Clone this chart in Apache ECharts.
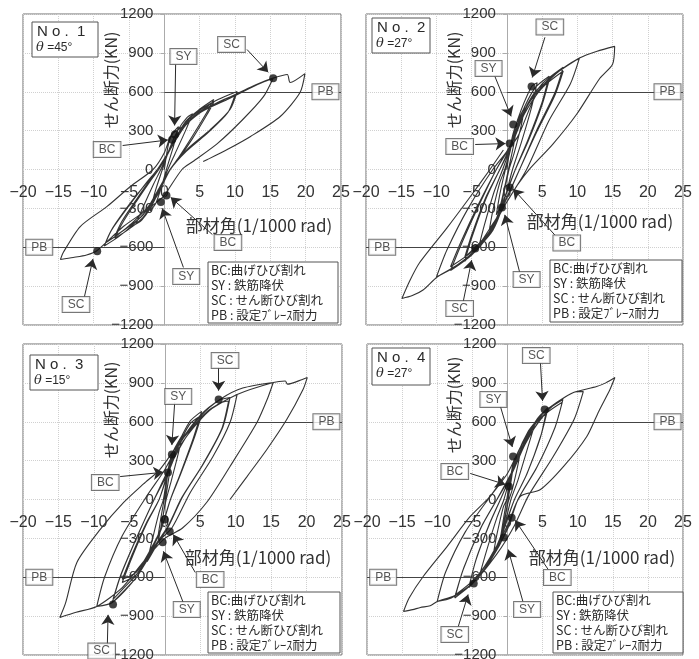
<!DOCTYPE html>
<html>
<head>
<meta charset="utf-8">
<script src="https://cdn.jsdelivr.net/npm/echarts@6/dist/echarts.min.js"></script>
<style>
html,body{margin:0;padding:0;background:#fff}
#chart{width:699px;height:659px}
</style>
</head>
<body>
<div id="chart"></div>
<script>
// ---- axis ranges ----
const xRange = [-20, 25];      // 部材角 (1/1000 rad)
const xStep = 5;
const yRange = [-1200, 1200];  // せん断力 (kN)
const yStep = 300;
const yTickValues = [-1200, -900, -600, -300, 0, 300, 600, 900, 1200];

// ---- specimen labels ----
const specimenNo = ['1', '2', '3', '4'];
const braceAngle = ['45', '27', '15', '27'];
const pbLevel = [600, 600, 600, 600];   // 設定ブレース耐力

// ---- load–deformation paths [rotation, shear] ----
const loopNo1 = [
  [0,0],[0.6,200],[1.2,280],[2,330],[1.3,180],[0.4,20],[-0.5,-150],[-1.2,-260],[-2,-320],[-1.3,-170],[-0.4,-20],
  [0.8,170],[2,310],[3.2,400],[4,430],[3,300],[1.5,120],[0.5,0],[-0.8,-170],[-2,-300],[-3.2,-390],[-4,-420],[-3,-290],[-1.5,-110],[-0.5,0],
  [1,180],[3,370],[5,465],[7,540],[6,440],[4,260],[2,90],[0.8,0],[-1,-180],[-3,-370],[-5,-460],[-7,-530],[-6,-420],[-4,-250],[-2,-90],[-0.8,0],
  [1,170],[3,350],[5,445],[7,520],[6,420],[4,240],[2,80],[0.8,0],[-1,-170],[-3,-350],[-5,-440],[-7,-515],[-6,-400],[-4,-235],[-2,-80],[-0.8,0],
  [1.2,200],[3,360],[5.1,460],[7.6,540],[10.3,602],[9.3,463],[6.5,308],[3.2,154],[0.85,0],[-1,-200],[-2.4,-309],[-4.5,-430],[-6.5,-520],[-8.5,-590],[-7.5,-470],[-5,-280],[-2.5,-100],[-1,0],
  [1.2,190],[3,340],[5.1,440],[7.6,520],[10,575],[9,440],[6.3,290],[3.1,140],[0.85,0],[-1,-190],[-2.4,-295],[-4.5,-410],[-6.5,-500],[-8.3,-565],[-7.3,-450],[-4.9,-265],[-2.4,-95],[-1,0],
  [0.5,120],[2.3,308],[5.1,440],[8.9,540],[13.2,656],[15.4,705],[14,560],[11,380],[7.5,200],[4,60],[2.5,0],[0.5,-160],[-0.1,-208],[-2.4,-309],[-5.8,-440],[-9.5,-625],[-11,-660],[-12.9,-679],[-14.7,-694],[-14.3,-640],[-11.9,-440],[-8.1,-285],[-4.8,-131],[-1.6,0],
  [0,130],[1,270],[2.3,320],[5.1,450],[8.9,550],[13.2,660],[15.4,705],[17.4,733],[17.8,671],[19.9,740],[19.2,594],[16.4,409],[12.2,255],[8.9,154],[6.1,77],[5.5,62]
];
const loopNo2 = [
  [0,0],[0.5,180],[1,300],[1.5,360],[1,200],[0.3,20],[-0.5,-180],[-1,-290],[-1.5,-350],[-1,-190],[-0.3,-20],
  [0.5,150],[1.2,330],[2.5,480],[2,330],[1,120],[0.3,0],[-0.7,-250],[-1.5,-380],[-2.5,-470],[-2,-320],[-1,-100],[-0.3,0],
  [0.6,180],[1.5,380],[3.5,640],[4.3,670],[3.5,480],[2,200],[0.8,0],[-0.7,-300],[-2,-470],[-4,-600],[-3.2,-430],[-1.8,-170],[-0.6,0],
  [0.7,200],[2,420],[4,630],[6,720],[5,520],[3,230],[1.2,0],[-0.5,-250],[-2,-470],[-4.5,-620],[-6,-710],[-5,-530],[-3,-230],[-1,0],
  [0.7,190],[2,400],[4,600],[6,690],[5,500],[3,215],[1.2,0],[-0.5,-240],[-2,-450],[-4.5,-600],[-6,-680],[-5,-505],[-3,-215],[-1,0],
  [0.8,220],[2.5,450],[5,660],[8,790],[6.8,590],[4.2,300],[1.8,0],[-0.5,-280],[-2.5,-500],[-5,-660],[-8,-780],[-6.5,-580],[-4,-280],[-1.5,0],
  [0.8,210],[2.5,430],[5,630],[8,760],[6.8,570],[4.2,285],[1.8,0],[-0.5,-270],[-2.5,-480],[-5,-635],[-8,-750],[-6.5,-555],[-4,-265],[-1.5,0],
  [1,240],[3,500],[6,700],[10.3,860],[9,660],[6,380],[2.8,0],[0,-250],[-3,-530],[-6.5,-720],[-10,-830],[-8.5,-620],[-5.5,-300],[-2,0],
  [1.5,250],[4,560],[7,740],[10.3,860],[12.8,913],[15.3,950],[15,813],[13.2,704],[9.9,426],[6.5,194],[3.3,8],[1.5,-120],[0,-250],[-2,-420],[-4.5,-620],[-7,-735],[-9.9,-830],[-11.9,-930],[-13.5,-975],[-14.9,-995],[-13.8,-860],[-12.4,-720],[-8.5,-450],[-5.2,-210],[-2.4,0],[-0.5,150]
];
const loopNo3 = [
  [0,0],[0.3,150],[0.6,250],[1,330],[0.6,180],[0.1,0],[-0.3,-150],[-0.6,-230],[-1,-300],[-0.6,-160],[-0.1,0],
  [0.3,180],[1,350],[2.5,500],[1.8,330],[0.8,120],[0.2,0],[-0.5,-200],[-1,-330],[-2.5,-480],[-1.8,-320],[-0.8,-100],[-0.2,0],
  [0.4,200],[1.5,380],[3.5,600],[5.2,680],[4,470],[2.2,200],[0.8,0],[-0.5,-230],[-2,-400],[-4,-580],[-6,-640],[-4.5,-430],[-2.5,-180],[-0.8,0],
  [0.4,190],[1.5,360],[3.5,580],[5.2,650],[4,450],[2.2,190],[0.8,0],[-0.5,-220],[-2,-385],[-4,-560],[-6,-615],[-4.5,-410],[-2.5,-170],[-0.8,0],
  [0.5,220],[2,420],[5,640],[7.6,764],[9.2,787],[8.2,560],[5.5,280],[2.5,20],[0.5,-210],[-1.5,-380],[-4,-600],[-6,-718],[-7.4,-795],[-6.3,-600],[-4,-300],[-1.5,0],
  [0.5,210],[2,400],[5,615],[7.6,740],[9,760],[8,540],[5.3,265],[2.4,15],[0.5,-200],[-1.5,-365],[-4,-580],[-6,-695],[-7.3,-770],[-6.2,-580],[-3.9,-285],[-1.5,0],
  [0.5,230],[3,480],[6,680],[10.2,810],[9.2,594],[6.8,332],[3.6,54],[1,-220],[-1,-330],[-4,-600],[-7.4,-795],[-9.6,-826],[-8.5,-600],[-6,-280],[-2.5,30],
  [0,230],[2,430],[5,650],[8,780],[11,860],[15.3,903],[14.5,780],[13,594],[9.2,255],[5.9,-23],[2.5,-220],[0,-300],[-3,-480],[-6,-680],[-9.6,-826],[-12.5,-870],[-14.8,-910],[-14,-800],[-12.4,-486],[-9.1,-231],[-5.8,-23],[-3,120],[-0.7,231],
  [2.1,440],[5.9,671],[10.2,810],[15.3,903],[17,915],[17.3,890],[19.4,926],[20.1,941],[19.5,849],[17.2,617],[14.4,386],[11.6,177],[9.2,0]
];
const loopNo4 = [
  [0,0],[0.4,150],[0.7,250],[1,320],[0.6,170],[0.1,0],[-0.4,-150],[-0.7,-240],[-1,-300],[-0.6,-160],[-0.1,0],
  [0.4,160],[1,300],[2,420],[1.5,270],[0.6,60],[0.1,-20],[-0.6,-220],[-1.2,-330],[-2,-420],[-1.5,-270],[-0.6,-60],[-0.1,0],
  [0.5,180],[1.5,360],[3,530],[4,600],[3,420],[1.5,150],[0.5,0],[-0.5,-220],[-1.5,-380],[-3,-520],[-4,-590],[-3,-400],[-1.5,-140],[-0.5,0],
  [0.5,190],[2,400],[4,600],[5.2,679],[5.8,710],[4.8,500],[2.8,200],[1,0],[-0.5,-230],[-2,-430],[-4,-590],[-5.5,-680],[-4.5,-470],[-2.5,-180],[-1,0],
  [0.5,185],[2,390],[4,585],[5.5,670],[4.7,480],[2.7,190],[1,0],[-0.5,-220],[-2,-415],[-4,-570],[-5.4,-655],[-4.4,-450],[-2.4,-170],[-1,0],
  [0.6,200],[2.5,440],[5,660],[7.9,772],[6.8,560],[4.2,250],[1.5,0],[0,-230],[-2.5,-480],[-5,-650],[-7.5,-760],[-6.3,-540],[-3.8,-220],[-1.5,0],
  [0.6,195],[2.5,425],[5,640],[7.8,750],[6.7,545],[4.1,240],[1.5,0],[0,-220],[-2.5,-465],[-5,-630],[-7.4,-735],[-6.2,-525],[-3.7,-210],[-1.5,0],
  [0.6,210],[3,480],[6,700],[9.4,826],[10.8,833],[9.5,620],[6.5,330],[3,30],[1,-200],[-1.5,-420],[-5,-650],[-8,-760],[-10,-787],[-8.8,-560],[-6,-250],[-2.5,20],
  [0,200],[2,420],[4.5,640],[7,748],[9.4,826],[12.7,872],[14,900],[15.3,941],[14.6,849],[13,680],[11.3,486],[8,255],[4.7,77],[1.8,23],[0,-200],[-2.5,-450],[-4.9,-640],[-7.5,-740],[-10,-787],[-11,-820],[-12.4,-833],[-13.5,-850],[-14.8,-864],[-14,-760],[-12,-594],[-8.6,-363],[-5.3,-131],[-2.5,23],[-0.5,180]
];

// ---- observed events (BC, SY, SC) [rotation, shear] ----
const eventsNo1 = [[1.1,230],[1.5,270],[15.4,705],[0.3,-200],[-0.5,-250],[-9.5,-630]];
const eventsNo2 = [[0.4,200],[0.9,347],[3.5,640],[0.4,-139],[-0.7,-293],[-4.5,-610]];
const eventsNo3 = [[0.45,208],[1,347],[7.6,772],[0.7,-247],[0,-154],[-0.3,-330],[-7.3,-810]];
const eventsNo4 = [[0.2,100],[0.8,332],[5.3,694],[0.6,-140],[-0.5,-293],[-4.8,-648]];

// ---- legend lines ----
const legendLines = ['BC:曲げひび割れ', 'SY : 鉄筋降伏', 'SC : せん断ひび割れ', 'PB : 設定ﾌﾞﾚｰｽ耐力'];

// ---- callout placement (tag, label anchor, arrow start, arrow tip) ----
const calloutsNo1 = [
  ['SC',[9.5,965],[11.7,926],[14.7,750]],
  ['SY',[2.7,872],[1.6,810],[1.45,340]],
  ['BC',[-8.1,154],[-5.9,185],[0.5,228]],
  ['BC',[9.0,-563],[6.8,-502],[0.9,-215]],
  ['SY',[3.1,-826],[2.7,-756],[-0.3,-300]],
  ['SC',[-12.5,-1042],[-11.3,-980],[-10.1,-690]]
];
const calloutsNo2 = [
  ['SC',[6.1,1100],[5.4,1020],[3.6,710]],
  ['SY',[-2.6,780],[-1.7,718],[0.6,410]],
  ['BC',[-6.7,178],[-4.5,193],[-0.2,200]],
  ['BC',[8.5,-567],[6.8,-505],[0.9,-150]],
  ['SY',[2.8,-849],[1.8,-790],[-0.3,-350]],
  ['SC',[-6.7,-1073],[-6.2,-1020],[-5,-700]]
];
const calloutsNo3 = [
  ['SC',[8.5,1073],[7.6,1019],[7.6,840]],
  ['SY',[1.9,795],[1.4,748],[1,420]],
  ['BC',[-8.4,131],[-6.3,177],[-0.2,210]],
  ['BC',[6.4,-617],[4.3,-563],[1.2,-270]],
  ['SY',[3.1,-849],[2.6,-795],[-0.2,-400]],
  ['SC',[-8.9,-1170],[-8.1,-1119],[-8,-890]]
];
const calloutsNo4 = [
  ['SC',[4.1,1111],[4.7,1057],[5,760]],
  ['SY',[-2,772],[-1,718],[0.7,405]],
  ['BC',[-7.5,216],[-5.3,201],[-0.3,116]],
  ['BC',[7.1,-602],[5.8,-540],[1.1,-160]],
  ['SY',[2.8,-849],[2.2,-787],[0.1,-386]],
  ['SC',[-7.5,-1042],[-7,-980],[-5.6,-733]]
];
const pbTagX = [22.8, -17.7];

// ---- page layout (pixels) ----
const panelLayout = [
  {grid:[23,14,318,311], title:[32,22,66,35], legend:[208,262,130,61], yName:[111,80],  xName:[259,226]},
  {grid:[366,14,317,311], title:[372,18,58,35], legend:[550,260,132,62], yName:[454,80],  xName:[600,222]},
  {grid:[23,344,319,311], title:[30,355,68,35], legend:[208,592,132,61], yName:[111,410], xName:[258,558]},
  {grid:[367,344,316,311], title:[372,348,58,37], legend:[553,592,130,61], yName:[454,405], xName:[602,558]}
];

const loops = [loopNo1, loopNo2, loopNo3, loopNo4];
const events = [eventsNo1, eventsNo2, eventsNo3, eventsNo4];
const callouts = [calloutsNo1, calloutsNo2, calloutsNo3, calloutsNo4];

const INK = '#2a2a2a';
const NUM_FONT = 'Liberation Sans';
const JP_FONT = 'Noto Sans CJK JP';
const minus = v => String(v).replace('-', '\u2212');

const grids = [], xAxes = [], yAxes = [], series = [], graphics = [];

panelLayout.forEach((L, i) => {
  const [gl, gt, gw, gh] = L.grid;
  // pixel position of the zero lines inside this grid
  const zeroX = gl + gw * (0 - xRange[0]) / (xRange[1] - xRange[0]);
  const zeroY = gt + gh * (yRange[1] - 0) / (yRange[1] - yRange[0]);

  grids.push({left: gl, top: gt, width: gw, height: gh, show: true,
    outerBoundsMode: 'none', containLabel: false,
    borderColor: '#6f6f6f', borderWidth: 1, backgroundColor: 'transparent'});

  // tick labels sit beside the zero lines, not on the frame
  xAxes.push({
    type: 'value', gridIndex: i, min: xRange[0], max: xRange[1], interval: xStep,
    position: 'bottom',
    axisLine: {show: false, onZero: false},
    axisTick: {show: false},
    axisLabel: {margin: -(gt + gh - zeroY) + 15, fontSize: 16, color: '#333',
      fontFamily: NUM_FONT, formatter: minus},
    splitLine: {show: true, lineStyle: {color: '#d0d0d0', type: 'dotted', width: 1}}
  });
  yAxes.push({
    type: 'value', gridIndex: i, min: yRange[0], max: yRange[1], interval: yStep,
    position: 'left',
    axisLine: {show: false, onZero: false},
    axisTick: {show: false},
    axisLabel: {margin: -(zeroX - gl) + 11, fontSize: 15, color: '#333',
      fontFamily: NUM_FONT, formatter: minus},
    splitLine: {show: true, lineStyle: {color: '#d0d0d0', type: 'dotted', width: 1}}
  });

  // vertical zero axis with its ticks
  series.push({
    type: 'lines', coordinateSystem: 'cartesian2d', xAxisIndex: i, yAxisIndex: i,
    symbol: 'none', silent: true, z: 1,
    lineStyle: {color: '#ababab', width: 1, opacity: 1},
    data: [{coords: [[0, yRange[0]], [0, yRange[1]]]}].concat(
      yTickValues.map(v => ({coords: [[0, v], [-0.55, v]]})))
  });

  // brace capacity reference lines
  series.push({
    type: 'lines', coordinateSystem: 'cartesian2d', xAxisIndex: i, yAxisIndex: i,
    symbol: 'none', silent: true, z: 2,
    lineStyle: {color: '#444', width: 1, opacity: 1},
    data: [
      {coords: [[0, pbLevel[i]], [xRange[1], pbLevel[i]]]},
      {coords: [[xRange[0], -pbLevel[i]], [0, -pbLevel[i]]]}
    ]
  });

  // hysteresis curve
  series.push({
    type: 'line', xAxisIndex: i, yAxisIndex: i, data: loops[i],
    showSymbol: false, smooth: 0.25, z: 3,
    lineStyle: {color: '#333', width: 1.1}
  });

  // event markers
  series.push({
    type: 'scatter', xAxisIndex: i, yAxisIndex: i, data: events[i],
    symbol: 'circle', symbolSize: 8, z: 5,
    itemStyle: {color: '#111'}
  });

  // arrows from tags to events
  series.push({
    type: 'lines', coordinateSystem: 'cartesian2d', xAxisIndex: i, yAxisIndex: i,
    symbol: ['none', 'arrow'], symbolSize: [0, 10], silent: true, z: 6,
    lineStyle: {color: INK, width: 1, opacity: 1},
    data: callouts[i].map(c => ({coords: [c[2], c[3]]}))
  });

  // boxed tags
  const tags = callouts[i].map(c => ({name: c[0], value: c[1]}));
  tags.push({name: 'PB', value: [pbTagX[0], pbLevel[i]]});
  tags.push({name: 'PB', value: [pbTagX[1], -pbLevel[i]]});
  series.push({
    type: 'scatter', xAxisIndex: i, yAxisIndex: i, data: tags,
    symbolSize: 1, itemStyle: {color: 'rgba(0,0,0,0)'}, z: 8, silent: true,
    label: {
      show: true, position: 'inside', formatter: '{b}',
      fontSize: 12, fontFamily: NUM_FONT, color: INK,
      backgroundColor: '#fff', borderColor: '#555', borderWidth: 1,
      padding: [2, 5, 1, 5]
    }
  });

  // specimen title box
  const [tx, ty, tw, th] = L.title;
  graphics.push({type: 'rect', shape: {x: tx, y: ty, width: tw, height: th},
    style: {fill: '#fff', stroke: '#555', lineWidth: 1}, z: 20});
  graphics.push({type: 'text', x: tx + 5, y: ty + 10, z: 21,
    style: {text: 'N o .  ' + specimenNo[i], fontSize: 15, fontFamily: NUM_FONT,
      fill: INK, verticalAlign: 'middle'}});
  graphics.push({type: 'text', x: tx + 4, y: ty + 26, z: 21,
    style: {text: '{t|θ} =' + braceAngle[i] + '°', fontSize: 12, fontFamily: NUM_FONT,
      fill: INK, verticalAlign: 'middle',
      rich: {t: {fontStyle: 'italic', fontSize: 13, fontFamily: 'DejaVu Serif', fill: INK}}}});

  // legend box
  const [lx, ly, lw, lh] = L.legend;
  graphics.push({type: 'rect', shape: {x: lx, y: ly, width: lw, height: lh},
    style: {fill: '#fff', stroke: '#555', lineWidth: 1}, z: 20});
  legendLines.forEach((t, k) => {
    graphics.push({type: 'text', x: lx + 3, y: ly + 8 + k * 15.2, z: 21,
      style: {text: t, fontSize: 12.5, fontFamily: JP_FONT, fill: INK, verticalAlign: 'middle'}});
  });

  // axis names
  graphics.push({type: 'text', x: L.yName[0], y: L.yName[1], rotation: Math.PI / 2, z: 21,
    style: {text: 'せん断力(KN)', fontSize: 16, fontFamily: JP_FONT, fill: '#333',
      align: 'center', verticalAlign: 'middle'}});
  graphics.push({type: 'text', x: L.xName[0], y: L.xName[1], z: 21,
    style: {text: '部材角(1/1000 rad)', fontSize: 17, fontFamily: JP_FONT, fill: '#333',
      align: 'center', verticalAlign: 'middle'}});
});

const chart = echarts.init(document.getElementById('chart'), null, {renderer: 'canvas'});
chart.setOption({
  animation: false,
  backgroundColor: '#fff',
  grid: grids,
  xAxis: xAxes,
  yAxis: yAxes,
  series: series,
  graphic: graphics
});
</script>
</body>
</html>
